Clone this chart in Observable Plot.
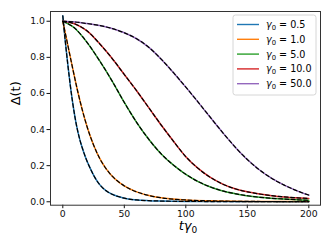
<!DOCTYPE html>
<html>
<head>
<meta charset="utf-8">
<script src="https://cdn.jsdelivr.net/npm/d3@7"></script>
<script src="https://cdn.jsdelivr.net/npm/@observablehq/plot@0.6"></script>
<style>
  body { margin: 0; background: #fff; }
  svg { font-family: "DejaVu Sans", sans-serif; }
</style>
</head>
<body>
<div id="chart"></div>
<script>
// Series labels and colours
const seriesLabels = ["γ₀ = 0.5", "γ₀ = 1.0", "γ₀ = 5.0", "γ₀ = 10.0", "γ₀ = 50.0"];
const seriesValuesText = ["0.5", "1.0", "5.0", "10.0", "50.0"];
const seriesColors = ["#1f77b4", "#ff7f0e", "#2ca02c", "#d62728", "#9467bd"];

// t values (t·γ0) and Δ(t) for each series
const tBlue   = [0, 2, 4, 6, 8, 10, 12, 14, 16, 18, 20, 23, 26, 30, 35, 40, 45, 50, 60, 70, 80, 100, 130, 160, 200];
const vBlue   = [1.03, 0.89, 0.765, 0.65, 0.55, 0.465, 0.395, 0.34, 0.295, 0.255, 0.22, 0.175, 0.135, 0.095, 0.062, 0.042, 0.029, 0.02, 0.01, 0.006, 0.004, 0.002, 0.001, 0.0005, 0.0];

const tOrange = [0, 4, 8, 12, 16, 20, 25, 30, 35, 40, 45, 50, 60, 70, 80, 100, 120, 150, 200];
const vOrange = [1.0, 0.87, 0.74, 0.615, 0.505, 0.41, 0.315, 0.24, 0.185, 0.143, 0.112, 0.088, 0.055, 0.035, 0.022, 0.01, 0.005, 0.002, 0.001];

const tGreen  = [0, 10, 20, 30, 40, 50, 60, 70, 80, 90, 100, 110, 120, 130, 140, 160, 180, 200];
const vGreen  = [1.0, 0.96, 0.88, 0.78, 0.67, 0.55, 0.44, 0.345, 0.265, 0.203, 0.152, 0.112, 0.082, 0.06, 0.045, 0.025, 0.015, 0.008];

const tRed    = [0, 10, 20, 30, 40, 50, 60, 70, 80, 90, 100, 110, 120, 130, 140, 150, 160, 170, 180, 190, 200];
const vRed    = [1.0, 0.985, 0.945, 0.875, 0.795, 0.705, 0.615, 0.52, 0.425, 0.335, 0.25, 0.185, 0.135, 0.098, 0.072, 0.055, 0.043, 0.034, 0.027, 0.022, 0.018];

const tPurple = [0, 10, 20, 30, 40, 50, 60, 70, 80, 90, 100, 110, 120, 130, 140, 150, 160, 170, 180, 190, 200];
const vPurple = [1.0, 0.996, 0.987, 0.976, 0.96, 0.936, 0.903, 0.855, 0.79, 0.715, 0.635, 0.552, 0.467, 0.383, 0.304, 0.234, 0.176, 0.129, 0.092, 0.062, 0.037];

const xTicks = [0, 50, 100, 150, 200];
const yTicks = [0.0, 0.2, 0.4, 0.6, 0.8, 1.0];

const seriesT = [tBlue, tOrange, tGreen, tRed, tPurple];
const seriesV = [vBlue, vOrange, vGreen, vRed, vPurple];

const rows = [];
seriesT.forEach((ts, i) => ts.forEach((t, j) => rows.push({series: seriesLabels[i], t, v: seriesV[i][j]})));

const chart = Plot.plot({
  width: 332,
  height: 249,
  marginLeft: 50,
  marginRight: 12,
  marginTop: 11,
  marginBottom: 44.3,
  style: {fontFamily: "DejaVu Sans, sans-serif", fontSize: "9.3px", background: "#fff", color: "#111"},
  x: {domain: [-10, 209.5]},
  y: {domain: [-0.019, 1.054]},
  color: {domain: seriesLabels, range: seriesColors},
  marks: [
    Plot.line(rows, {x: "t", y: "v", z: "series", stroke: "series", strokeWidth: 1.5, curve: "monotone-x"}),
    Plot.line(rows, {x: "t", y: "v", z: "series", stroke: "#000", strokeWidth: 1.2, strokeDasharray: "3.7,2.6", curve: "monotone-x"}),
    Plot.axisX({ticks: xTicks, tickSize: 3.5, tickPadding: 2, label: null, fontSize: 9.3}),
    Plot.axisY({ticks: yTicks, tickSize: 3.5, tickPadding: 2, tickFormat: d3.format(".1f"), label: null, fontSize: 9.3}),
    Plot.frame({stroke: "#333", strokeWidth: 1}),
    Plot.text(["Δ(t)"], {frameAnchor: "left", dx: -35, dy: -3, rotate: -90, fontSize: 13, text: d => d, fill: "#000"})
  ]
});
document.getElementById("chart").appendChild(chart);

const svg = d3.select(chart);

// x-axis label: t γ_0 (math style)
const xl = svg.append("text").attr("x", 188).attr("y", 230).attr("text-anchor", "middle")
  .attr("font-size", 13).attr("fill", "#000");
xl.append("tspan").attr("font-style", "italic").text("tγ");
xl.append("tspan").attr("font-size", 9).attr("dy", 2.5).text("0");

// Legend inside the axes, upper right
const lg = svg.append("g").attr("transform", "translate(233,15)");
lg.append("rect").attr("width", 83).attr("height", 80).attr("rx", 2.5)
  .attr("fill", "#fff").attr("fill-opacity", 0.8).attr("stroke", "#d6d6d6").attr("stroke-width", 1);
seriesLabels.forEach((lab, i) => {
  const y = 9.5 + i * 14.8;
  lg.append("line").attr("x1", 4).attr("x2", 26).attr("y1", y).attr("y2", y)
    .attr("stroke", seriesColors[i]).attr("stroke-width", 1.4);
  const tx = lg.append("text").attr("x", 33).attr("y", y + 3.5)
    .attr("text-anchor", "start").attr("font-size", 9.6).attr("fill", "#000");
  tx.append("tspan").attr("font-style", "italic").text("γ");
  tx.append("tspan").attr("font-size", 6.8).attr("dy", 2).text("0");
  tx.append("tspan").attr("dy", -2).text(" = " + seriesValuesText[i]);
});
</script>
</body>
</html>
